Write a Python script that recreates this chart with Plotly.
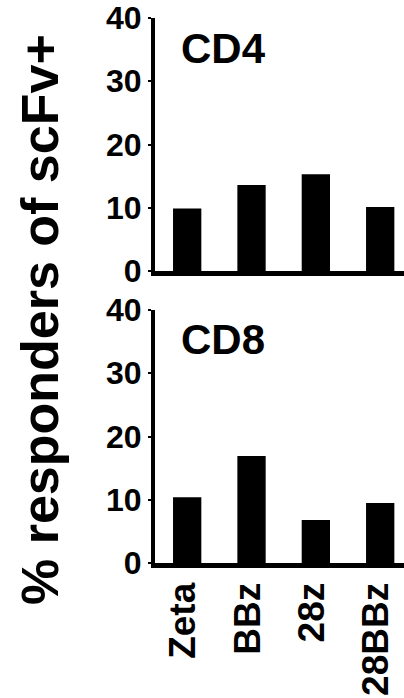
import plotly.graph_objects as go

categories = ["Zeta", "BBz", "28z", "28BBz"]
cd4_values = [9.9, 13.6, 15.3, 10.1]
cd8_values = [10.4, 16.9, 6.8, 9.5]
y_ticks = [0, 10, 20, 30, 40]
panel_titles = ["CD4", "CD8"]
y_title = "% responders of scFv+"

W, H = 404, 698
FONT = "Liberation Sans, Arial, sans-serif"

fig = go.Figure()
fig.add_trace(go.Bar(x=categories, y=cd4_values, xaxis="x", yaxis="y",
                     marker=dict(color="black", line=dict(width=0)), width=0.44))
fig.add_trace(go.Bar(x=categories, y=cd8_values, xaxis="x2", yaxis="y2",
                     marker=dict(color="black", line=dict(width=0)), width=0.44))

x_dom = [155 / W, 1.0]
top_dom = [1 - 271 / H, 1 - 18 / H]
bot_dom = [1 - 563 / H, 1 - 310 / H]

xcommon = dict(domain=x_dom, range=[-0.5, 3.37], showline=True, linecolor="black",
               linewidth=5, ticks="", showgrid=False, zeroline=False, fixedrange=True,
               automargin=False)
ycommon = dict(range=[0, 40], tickvals=y_ticks, showline=True, linecolor="black",
               linewidth=4, ticks="outside", ticklen=3, tickwidth=2, tickcolor="black",
               showgrid=False, zeroline=False, ticklabelstandoff=0, automargin=False,
               tickfont=dict(family=FONT, size=32, color="black", weight="bold"))

fig.update_layout(
    width=W, height=H,
    margin=dict(l=0, r=0, t=0, b=0),
    paper_bgcolor="white", plot_bgcolor="white",
    showlegend=False,
    xaxis=dict(xcommon, anchor="y", showticklabels=False),
    yaxis=dict(ycommon, domain=top_dom, anchor="x"),
    xaxis2=dict(xcommon, anchor="y2", showticklabels=True, tickangle=-90,
                ticklabelstandoff=0, ticklabelshift=-4,
                tickfont=dict(family=FONT, size=37, color="black", weight="bold")),
    yaxis2=dict(ycommon, domain=bot_dom, anchor="x2"),
)

fig.add_annotation(text=panel_titles[0], xref="paper", yref="paper", x=223 / W, y=1 - 49 / H,
                   xanchor="center", yanchor="middle", showarrow=False,
                   font=dict(family=FONT, size=42, color="black", weight="bold"))
fig.add_annotation(text=panel_titles[1], xref="paper", yref="paper", x=223 / W, y=1 - 339 / H,
                   xanchor="center", yanchor="middle", showarrow=False,
                   font=dict(family=FONT, size=42, color="black", weight="bold"))
fig.add_annotation(text=y_title, xref="paper", yref="paper", x=40 / W, y=1 - 320 / H,
                   xanchor="center", yanchor="middle", showarrow=False, textangle=-90,
                   font=dict(family=FONT, size=52, color="black", weight="bold"))

fig.write_html("out.html")
